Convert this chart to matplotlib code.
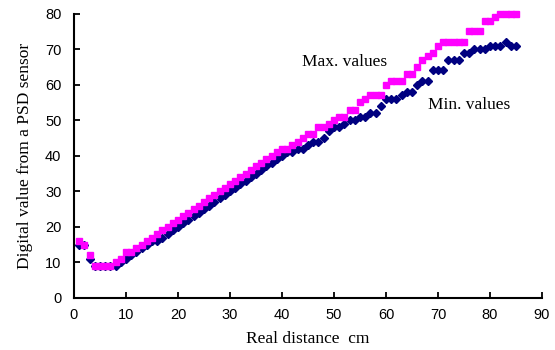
import matplotlib
matplotlib.use("Agg")
import matplotlib.pyplot as plt
import numpy as np

distance = list(range(1, 86))

max_values = [16, 15, 12, 9, 9, 9, 9, 10, 11, 13,
              13, 14, 15, 16, 17, 18, 19, 20, 21, 22,
              23, 24, 25, 26, 27, 28, 29, 30, 31, 32,
              33, 34, 35, 36, 37, 38, 39, 40, 41, 42,
              42, 43, 44, 45, 46, 46, 48, 48, 49, 50,
              51, 51, 53, 53, 55, 56, 57, 57, 57, 60,
              61, 61, 61, 63, 63, 65, 67, 68, 69, 71,
              72, 72, 72, 72, 72, 75, 75, 75, 78, 78,
              79, 80, 80, 80, 80]

min_values = [15, 15, 11, 9, 9, 9, 9, 9, 10, 11,
              12, 13, 14, 15, 16, 16, 17, 18, 19, 20,
              21, 22, 23, 24, 25, 26, 27, 28, 29, 30,
              31, 32, 33, 34, 35, 36, 37, 38, 39, 40,
              41, 41, 42, 42, 43, 44, 44, 45, 47, 48,
              48, 49, 50, 50, 51, 51, 52, 52, 54, 56,
              56, 56, 57, 58, 58, 60, 61, 61, 64, 64,
              64, 67, 67, 67, 69, 69, 70, 70, 70, 71,
              71, 71, 72, 71, 71]

x_ticks = [0, 10, 20, 30, 40, 50, 60, 70, 80, 90]
y_ticks = [0, 10, 20, 30, 40, 50, 60, 70, 80]

fig = plt.figure(figsize=(5.55, 3.5), dpi=100)
ax = fig.add_axes([0.1333, 0.1486, 0.8433, 0.8128])

ax.plot(distance, min_values, linestyle='none', marker='D', markersize=4.0,
        color='#000080', clip_on=False)
ax.plot(distance, max_values, linestyle='none', marker='s', markersize=5.0,
        color='#FF00FF', clip_on=False)

ax.set_xlim(0, 90)
ax.set_ylim(0, 80)
ax.set_xticks(x_ticks)
ax.set_yticks(y_ticks)
for s in ['top', 'right']:
    ax.spines[s].set_visible(False)
for s in ['left', 'bottom']:
    ax.spines[s].set_linewidth(1.5)
ax.tick_params(direction='in', length=4, width=1.3, labelsize=10.5)
ax.tick_params(axis='y', pad=9)
ax.tick_params(axis='x', pad=7)
for lab in ax.get_xticklabels() + ax.get_yticklabels():
    lab.set_family('Liberation Sans')

ax.set_xlabel('Real distance  cm', family='Liberation Serif', fontsize=12.5, labelpad=7)
ax.set_ylabel('Digital value from a PSD sensor', family='Liberation Serif', fontsize=12.5, labelpad=9)

ax.text(52, 66.3, 'Max. values', family='Liberation Serif', fontsize=12.5, ha='center', va='center')
ax.text(76, 54.3, 'Min. values', family='Liberation Serif', fontsize=12.5, ha='center', va='center')

fig.savefig('out.png', dpi=100)
